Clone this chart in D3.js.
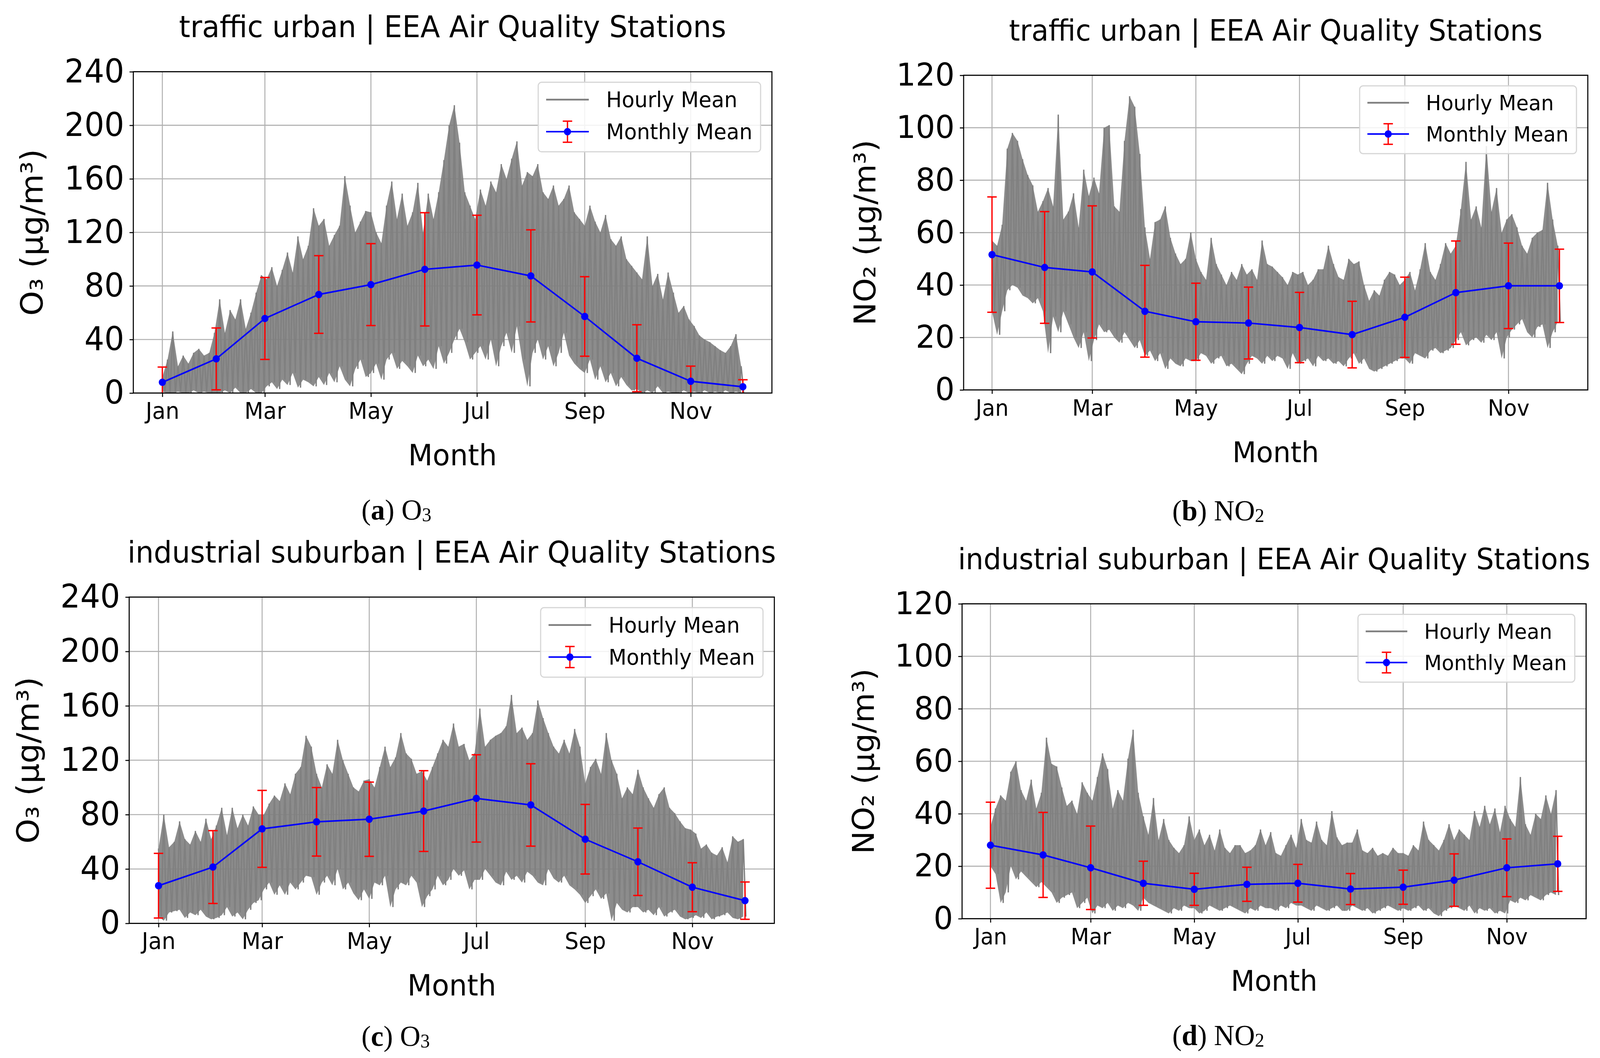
<!DOCTYPE html>
<html><head><meta charset="utf-8">
<script src="https://cdn.jsdelivr.net/npm/d3@7/dist/d3.min.js"></script>
<style>html,body{margin:0;padding:0;background:#fff;overflow:hidden}svg{display:block;width:100vw;height:100vh}</style>
</head><body>
<svg id="fig" viewBox="0 0 4238 2708" preserveAspectRatio="none"></svg>
<script>
// ---------- data ----------
const monthNames = ["Jan","Feb","Mar","Apr","May","Jun","Jul","Aug","Sep","Oct","Nov","Dec"];
const monthStartDay = [0,31,59,90,120,151,181,212,243,273,304,334];
const tickMonthNames = ["Jan","Mar","May","Jul","Sep","Nov"];
// hourly record summarised every 3rd day (day-of-year index): high and low of the hourly trace
const sampleDays = d3.range(0, 334, 3);

// (a) O3 traffic urban
const o3TrafficMean = [8.0,25.5,55.7,73.6,81.0,92.4,95.6,87.5,57.2,26.0,8.8,4.7];
const o3TrafficStd  = [11.4,23.1,30.6,29.0,30.6,42.3,37.2,34.4,29.7,25.0,11.3,5.2];
const o3TrafficHigh = [
 12,25,46,20,28,22,30,33,28,30,45,
 70,45,62,55,70,48,60,75,88,
 85,94,80,92,105,90,117,100,110,138,
 125,130,110,118,125,162,140,120,128,136,
 135,120,112,140,158,130,149,125,135,157,120,
 149,130,150,174,200,215,187,150,140,130,
 152,140,158,150,171,160,175,188,155,165,
 162,171,150,145,155,140,145,155,135,130,
 125,140,128,120,133,115,110,117,100,95,
 90,85,117,80,89,70,90,75,60,65,55,
 50,43,40,38,35,32,30,35,44,20];
const o3TrafficLow = [
 1,0,0,1,0,0,2,0,1,0,0,
 0,2,0,4,0,0,3,0,0,
 5,8,3,10,6,15,4,10,8,5,
 12,6,15,8,20,10,5,18,25,12,
 15,22,10,25,30,18,24,20,15,28,20,
 25,18,35,22,30,40,48,38,25,30,
 35,25,40,20,35,45,30,50,25,5,
 30,40,25,35,20,30,45,28,22,18,
 15,25,10,20,8,15,5,12,6,2,
 3,0,2,0,5,0,1,0,0,2,0,
 1,0,2,0,1,0,2,0,1,0];

// (b) NO2 traffic urban
const no2TrafficMean = [51.6,46.7,45.0,30.0,26.0,25.5,23.8,21.1,27.7,37.1,39.7,39.7];
const no2TrafficStd  = [22.0,21.3,25.2,17.5,14.7,13.7,13.4,12.7,15.3,19.7,16.3,14.0];
const no2TrafficHigh = [
 57,55,63,92,98,95,88,82,78,68,72,
 77,70,105,65,68,75,62,84,74,
 81,75,100,101,70,68,95,112,108,90,
 62,50,64,65,70,58,52,48,50,60,
 50,45,42,58,48,44,40,45,42,48,44,
 46,42,57,48,47,45,43,40,45,44,
 45,40,42,46,46,55,48,43,42,50,
 48,49,40,34,38,36,42,45,44,40,
 42,45,38,46,56,45,42,48,56,52,
 55,69,87,65,70,62,93,68,77,60,65,
 67,62,55,52,58,60,61,79,65,55];
const no2TrafficLow = [
 30,21,30,38,40,39,36,35,33,35,30,
 14,28,22,30,25,20,16,22,11,
 19,25,22,23,20,18,22,19,16,19,
 13,15,11,14,8,12,10,9,12,11,
 11,14,13,10,12,13,9,10,8,6,10,
 13,12,10,13,11,13,12,8,14,10,
 11,12,9,13,11,12,10,11,9,12,
 14,10,12,8,7,8,9,10,11,12,
 12,10,14,13,12,15,16,14,15,16,
 19,22,17,19,20,18,21,19,22,12,20,
 23,25,27,22,20,24,25,16,22,26];

// (c) O3 industrial suburban
const o3IndustrialMean = [27.7,41.4,69.5,74.7,76.6,82.6,91.9,87.1,61.9,45.3,26.6,16.7];
const o3IndustrialStd  = [23.8,26.8,28.3,25.2,27.3,29.7,32.1,30.3,25.6,24.8,18.0,13.7];
const o3IndustrialHigh = [
 55,80,56,60,75,62,58,68,60,77,62,
 72,85,65,85,70,80,72,86,80,
 80,88,94,90,103,95,110,115,138,130,
 110,100,117,110,135,120,110,100,97,105,
 106,100,115,130,115,122,140,125,121,110,112,
 105,115,125,135,130,147,130,132,120,125,
 158,130,135,138,140,145,168,140,144,135,
 140,164,151,140,130,125,135,125,143,130,
 103,115,121,110,140,120,110,92,100,95,
 113,100,92,85,95,100,85,81,75,70,69,
 66,55,58,52,50,56,45,64,60,62];
const o3IndustrialLow = [
 5,2,8,9,10,4,8,6,10,5,3,
 4,6,12,5,8,3,10,15,17,
 25,30,21,28,21,30,25,30,35,34,
 21,30,35,28,40,25,30,22,17,25,
 18,30,28,35,12,25,30,28,35,30,12,
 20,25,35,28,32,40,35,39,25,32,
 32,40,35,30,28,38,32,35,30,38,
 35,30,28,40,33,30,35,28,25,21,
 15,20,25,18,22,2,15,10,8,12,
 12,8,10,6,12,5,8,10,5,3,4,
 6,4,8,3,5,6,8,4,3,5];

// (d) NO2 industrial suburban
const no2IndustrialMean = [28.0,24.3,19.4,13.5,11.2,13.1,13.5,11.3,12.0,14.7,19.4,20.9];
const no2IndustrialStd  = [16.4,16.2,15.9,8.4,6.1,6.5,7.2,5.9,6.5,10.0,11.0,10.5];
const no2IndustrialHigh = [
 35,42,47,45,56,60,49,45,53,42,48,
 69,59,58,50,43,45,40,52,48,
 45,54,63,57,42,49,45,61,72,48,
 39,32,46,30,38,30,27,25,28,39,
 30,34,28,32,26,34,27,25,28,28,25,
 26,28,34,28,33,25,24,28,32,27,
 38,30,29,37,30,28,41,31,28,29,
 29,34,26,25,27,24,25,24,27,25,
 25,24,28,26,37,30,28,26,30,36,
 30,34,32,30,41,35,43,36,42,33,43,
 38,35,54,36,32,40,38,47,40,49];
const no2IndustrialLow = [
 20,17,6,10,20,15,18,16,14,12,14,
 12,10,6,8,9,10,4,6,8,
 2,5,4,6,3,5,4,6,5,3,
 8,6,5,4,3,2,4,3,5,4,
 4,2,3,5,4,3,4,5,4,3,2,
 4,3,5,4,4,3,5,4,6,5,
 5,4,3,5,4,3,4,5,3,3,
 5,4,3,4,2,3,4,5,4,3,
 4,3,4,5,3,4,2,1,3,4,
 5,4,3,5,2,4,3,4,2,3,2,
 7,6,8,7,9,8,7,9,10,9];

const titleTraffic = "traffic urban | EEA Air Quality Stations";
const titleIndustrial = "industrial suburban | EEA Air Quality Stations";

// ---------- layout ----------
const panels = [
 {id:"a", left:353.1, right:2044.6, top:183.6, bottom:1006, yMax:240, yStep:40, s:1,
  title:titleTraffic, ylabel:"O\u2083 (\u03bcg/m\u00b3)", capLetter:"a", capMain:"O", capSub:"3", capX:1050, capY:1330,
  mean:o3TrafficMean, std:o3TrafficStd, hi:o3TrafficHigh, lo:o3TrafficLow},
 {id:"b", left:2552.4, right:4205.7, top:192.7, bottom:998, yMax:120, yStep:20, s:0.975,
  title:titleTraffic, ylabel:"NO\u2082 (\u03bcg/m\u00b3)", capLetter:"b", capMain:"NO", capSub:"2", capX:3227, capY:1332,
  mean:no2TrafficMean, std:no2TrafficStd, hi:no2TrafficHigh, lo:no2TrafficLow},
 {id:"c", left:342.2, right:2051, top:1528.2, bottom:2363.4, yMax:240, yStep:40, s:1,
  title:titleIndustrial, ylabel:"O\u2083 (\u03bcg/m\u00b3)", capLetter:"c", capMain:"O", capSub:"3", capX:1048, capY:2677,
  mean:o3IndustrialMean, std:o3IndustrialStd, hi:o3IndustrialHigh, lo:o3IndustrialLow},
 {id:"d", left:2548.3, right:4201.2, top:1545.5, bottom:2351.4, yMax:120, yStep:20, s:0.975,
  title:titleIndustrial, ylabel:"NO\u2082 (\u03bcg/m\u00b3)", capLetter:"d", capMain:"NO", capSub:"2", capX:3227, capY:2675,
  mean:no2IndustrialMean, std:no2IndustrialStd, hi:no2IndustrialHigh, lo:no2IndustrialLow}
];

const svg = d3.select("#fig");
svg.append("rect").attr("width",4238).attr("height",2708).attr("fill","#fff");
const SANS = "'DejaVu Sans', sans-serif";
const SERIF = "'Liberation Serif', 'Times New Roman', serif";
const GRAY = "#808080";

panels.forEach(p => {
  const s = p.s;
  const x = d3.scaleLinear().domain([-16.7, 350.7]).range([p.left, p.right]);
  const y = d3.scaleLinear().domain([0, p.yMax]).range([p.bottom, p.top]);
  const g = svg.append("g");
  const clipId = "clip-" + p.id;
  g.append("clipPath").attr("id", clipId).append("rect")
    .attr("x", p.left).attr("y", p.top).attr("width", p.right - p.left).attr("height", p.bottom - p.top);

  const yTicks = d3.range(0, p.yMax + 0.1, p.yStep);
  const xTickDays = tickMonthNames.map(m => monthStartDay[monthNames.indexOf(m)]);

  // grid
  const grid = g.append("g").attr("stroke", "#b0b0b0").attr("stroke-width", 2.6);
  yTicks.forEach(t => grid.append("line").attr("x1", p.left).attr("x2", p.right).attr("y1", y(t)).attr("y2", y(t)));
  xTickDays.forEach(d => grid.append("line").attr("x1", x(d)).attr("x2", x(d)).attr("y1", p.top).attr("y2", p.bottom));

  const plot = g.append("g").attr("clip-path", `url(#${clipId})`);

  // hourly trace: band between low and high of the hourly record, plus high/low zigzag
  const band = sampleDays.map((d, i) => [d, p.lo[i], p.hi[i]]);
  plot.append("path").datum(band)
    .attr("d", d3.area().x(v => x(v[0])).y0(v => y(v[1])).y1(v => y(v[2])))
    .attr("fill", GRAY).attr("fill-opacity", 0.9);
  const pts = [];
  sampleDays.forEach((d, i) => { pts.push([d, p.hi[i]]); pts.push([d + 1.5, p.lo[i]]); });
  plot.append("path").datum(pts)
    .attr("d", d3.line().x(v => x(v[0])).y(v => y(v[1])))
    .attr("fill", "none").attr("stroke", GRAY).attr("stroke-width", 3.5).attr("stroke-linejoin", "bevel");

  // error bars
  const eb = plot.append("g").attr("stroke", "#ff0000").attr("stroke-width", 3.5);
  p.mean.forEach((m, i) => {
    const cx = x(monthStartDay[i]);
    const y1 = y(m + p.std[i]), y0 = y(m - p.std[i]);
    eb.append("line").attr("x1", cx).attr("x2", cx).attr("y1", y1).attr("y2", y0);
    eb.append("line").attr("x1", cx - 12.5).attr("x2", cx + 12.5).attr("y1", y1).attr("y2", y1);
    eb.append("line").attr("x1", cx - 12.5).attr("x2", cx + 12.5).attr("y1", y0).attr("y2", y0);
  });
  // monthly mean line + markers
  plot.append("path").datum(p.mean)
    .attr("d", d3.line().x((m, i) => x(monthStartDay[i])).y(m => y(m)))
    .attr("fill", "none").attr("stroke", "#0000ff").attr("stroke-width", 4);
  plot.selectAll(null).data(p.mean).enter().append("circle")
    .attr("cx", (m, i) => x(monthStartDay[i])).attr("cy", m => y(m)).attr("r", 9.5).attr("fill", "#0000ff");

  // frame
  g.append("rect").attr("x", p.left).attr("y", p.top).attr("width", p.right - p.left).attr("height", p.bottom - p.top)
    .attr("fill", "none").attr("stroke", "#000").attr("stroke-width", 2.8);

  // axes
  const yAxis = d3.axisLeft(y).tickValues(yTicks).tickFormat(d3.format("d")).tickSize(10).tickPadding(14);
  const ya = g.append("g").attr("transform", `translate(${p.left},0)`).call(yAxis);
  ya.select(".domain").remove();
  ya.selectAll(".tick line").attr("stroke", "#000").attr("stroke-width", 2.6);
  ya.selectAll(".tick text").attr("font-family", SANS).attr("font-size", 83 * s).attr("fill", "#000");

  const xAxis = d3.axisBottom(x).tickValues(xTickDays).tickFormat(d => monthNames[monthStartDay.indexOf(d)]).tickSize(10).tickPadding(0);
  const xa = g.append("g").attr("transform", `translate(0,${p.bottom})`).call(xAxis);
  xa.select(".domain").remove();
  xa.selectAll(".tick line").attr("stroke", "#000").attr("stroke-width", 2.6);
  xa.selectAll(".tick text").attr("font-family", SANS).attr("font-size", 58 * s).attr("fill", "#000")
    .attr("dy", null).attr("y", 66);

  // title, labels
  const cxAx = (p.left + p.right) / 2;
  g.append("text").attr("x", cxAx).attr("y", p.top - 88.6).attr("text-anchor", "middle")
    .attr("font-family", SANS).attr("font-size", 76 * s).text(p.title);
  g.append("text").attr("x", cxAx).attr("y", p.bottom + 185).attr("text-anchor", "middle")
    .attr("font-family", SANS).attr("font-size", 75 * s).text("Month");
  const ylx = p.left - 268 * s, yly = (p.top + p.bottom) / 2;
  g.append("text").attr("transform", `translate(${ylx},${yly}) rotate(-90)`).attr("text-anchor", "middle")
    .attr("dominant-baseline", "central").attr("font-family", SANS).attr("font-size", 81 * s).text(p.ylabel);

  // legend
  const lw = 589 * s, lh = 178 * s;
  const lx = p.right - 30 - lw, ly = p.top + 27;
  const lg = g.append("g");
  lg.append("rect").attr("x", lx).attr("y", ly).attr("width", lw).attr("height", lh).attr("rx", 9).attr("ry", 9)
    .attr("fill", "#fff").attr("fill-opacity", 0.85).attr("stroke", "#d6d6d6").attr("stroke-width", 3);
  const r1 = ly + 44.5 * s, r2 = ly + 126.5 * s;
  const hx0 = lx + 21 * s, hx1 = lx + 134 * s, hxc = (hx0 + hx1) / 2;
  lg.append("line").attr("x1", hx0).attr("x2", hx1).attr("y1", r1).attr("y2", r1).attr("stroke", GRAY).attr("stroke-width", 4.5);
  lg.append("line").attr("x1", hxc).attr("x2", hxc).attr("y1", r2 - 27 * s).attr("y2", r2 + 27 * s).attr("stroke", "#ff0000").attr("stroke-width", 3.5);
  [r2 - 27 * s, r2 + 27 * s].forEach(yy => lg.append("line").attr("x1", hxc - 12.5).attr("x2", hxc + 12.5).attr("y1", yy).attr("y2", yy).attr("stroke", "#ff0000").attr("stroke-width", 3.5));
  lg.append("line").attr("x1", hx0).attr("x2", hx1).attr("y1", r2).attr("y2", r2).attr("stroke", "#0000ff").attr("stroke-width", 4);
  lg.append("circle").attr("cx", hxc).attr("cy", r2).attr("r", 9.5).attr("fill", "#0000ff");
  [["Hourly Mean", r1], ["Monthly Mean", r2]].forEach(([t, yy]) =>
    lg.append("text").attr("x", lx + 180 * s).attr("y", yy).attr("dominant-baseline", "central")
      .attr("font-family", SANS).attr("font-size", 55 * s).text(t));

  // caption
  const cap = svg.append("text").attr("x", p.capX).attr("y", p.capY).attr("text-anchor", "middle")
    .attr("font-family", SERIF).attr("font-size", 75);
  cap.append("tspan").text("(");
  cap.append("tspan").attr("font-weight", "bold").text(p.capLetter);
  cap.append("tspan").text(") " + p.capMain);
  cap.append("tspan").attr("font-size", 50).attr("dy", 4).text(p.capSub);
});
</script>
</body></html>
